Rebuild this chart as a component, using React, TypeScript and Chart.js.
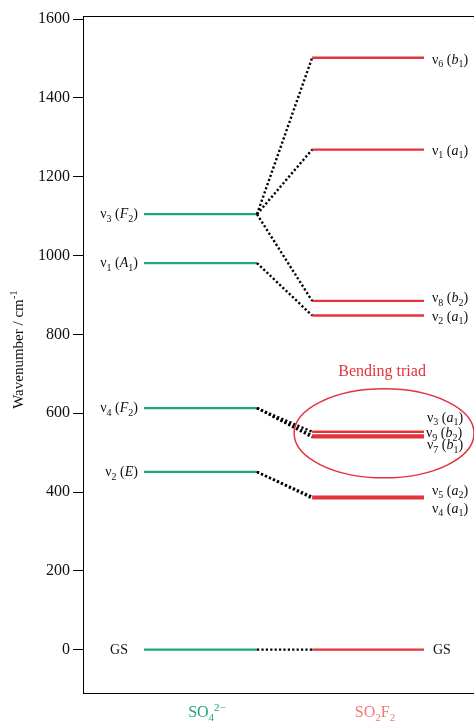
import React, { useEffect, useRef } from 'react';
import { Chart, registerables } from 'chart.js';
Chart.register(...registerables);

// ---------- data ----------
const yTickValues = [0, 200, 400, 600, 800, 1000, 1200, 1400, 1600];
const so4Values = [1105, 981, 613, 451, 0];
const so4Modes = ['3', '1', '4', '2', 'GS'];
const so4Symmetry: (string[] | null)[] = [['F', '2'], ['A', '1'], ['F', '2'], ['E', ''], null];
const so2f2Values = [1502, 1269, 885, 848, 553, 544, 539, 388, 384, 0];
const so2f2Modes = ['6', '1', '8', '2', '3', '9', '7', '5', '4', 'GS'];
const so2f2Symmetry: (string[] | null)[] = [
  ['b', '1'], ['a', '1'], ['b', '2'], ['a', '1'], ['a', '1'], ['b', '2'], ['b', '1'], ['a', '2'], ['a', '1'], null,
];
// [so4 index, so2f2 index]
const correlations = [[0, 0], [0, 1], [0, 2], [1, 3], [2, 4], [2, 5], [2, 6], [3, 7], [3, 8], [4, 9]];
const triadTitle = 'Bending triad';
const triadCenterValue = 549;
const triadHalfHeightValue = 113;

// ---------- layout / style ----------
const FAM = '"Liberation Serif", "Times New Roman", serif';
const GREEN = '#1ca77c';
const RED = '#e3333b';
const SALMON = '#f07a70';
const X_SO4 = [1.56, 4.45];
const X_SO2F2 = [5.86, 8.72];
const so4LabelDx = [-6, -6, -6, -6, -16];
const so4LabelDy = [0, 0, 0, 0, 0];
const so2f2LabelDx = [8, 8, 8, 8, 3, 2, 3, 8, 8, 9];
const so2f2LabelDy = [2, 1, -3, 1, -14, -2, 8, -6, 10, 0];

type Seg = { t: string; sub?: boolean; sup?: boolean; it?: boolean };

function modeLabel(mode: string, sym: string[] | null): Seg[] {
  if (mode === 'GS' || !sym) return [{ t: 'GS' }];
  const s: Seg[] = [{ t: 'ν' }, { t: mode, sub: true }, { t: ' (' }, { t: sym[0], it: true }];
  if (sym[1]) s.push({ t: sym[1], sub: true });
  s.push({ t: ')' });
  return s;
}

function drawRich(ctx: CanvasRenderingContext2D, segs: Seg[], x: number, y: number, align: string, size: number, color: string) {
  const fontFor = (s: Seg) => `${s.it ? 'italic ' : ''}${s.sub || s.sup ? Math.round(size * 0.7) : size}px ${FAM}`;
  let w = 0;
  for (const s of segs) { ctx.font = fontFor(s); w += ctx.measureText(s.t).width; }
  let cx = align === 'right' ? x - w : align === 'center' ? x - w / 2 : x;
  ctx.fillStyle = color;
  ctx.textAlign = 'left';
  ctx.textBaseline = 'alphabetic';
  const base = y + size * 0.3;
  for (const s of segs) {
    ctx.font = fontFor(s);
    const dy = s.sub ? size * 0.25 : s.sup ? -size * 0.38 : 0;
    ctx.fillText(s.t, cx, base + dy);
    cx += ctx.measureText(s.t).width;
  }
}

const annotations = {
  id: 'annotations',
  afterDatasetsDraw(chart: any) {
    const { ctx, chartArea } = chart;
    const xs = chart.scales.x;
    const ys = chart.scales.y;
    ctx.save();
    // top frame line
    ctx.strokeStyle = '#000';
    ctx.lineWidth = 1;
    ctx.beginPath();
    ctx.moveTo(chartArea.left, Math.round(chartArea.top) + 0.5);
    ctx.lineTo(chartArea.right, Math.round(chartArea.top) + 0.5);
    ctx.stroke();

    // SO4 labels
    so4Values.forEach((v, i) => {
      drawRich(ctx, modeLabel(so4Modes[i], so4Symmetry[i]), xs.getPixelForValue(X_SO4[0]) + so4LabelDx[i],
        ys.getPixelForValue(v) + so4LabelDy[i], 'right', 14, '#111');
    });
    // SO2F2 labels
    so2f2Values.forEach((v, i) => {
      drawRich(ctx, modeLabel(so2f2Modes[i], so2f2Symmetry[i]), xs.getPixelForValue(X_SO2F2[1]) + so2f2LabelDx[i],
        ys.getPixelForValue(v) + so2f2LabelDy[i], 'left', 14, '#111');
    });

    // ellipse around bending triad
    const cx = xs.getPixelForValue(7.7);
    const cy = ys.getPixelForValue(triadCenterValue);
    const rx = xs.getPixelForValue(7.7 + 2.3) - cx;
    const ry = cy - ys.getPixelForValue(triadCenterValue + triadHalfHeightValue);
    ctx.strokeStyle = RED;
    ctx.lineWidth = 1.5;
    ctx.beginPath();
    ctx.ellipse(cx, cy, rx, ry, 0, 0, Math.PI * 2);
    ctx.stroke();
    drawRich(ctx, [{ t: triadTitle }], xs.getPixelForValue(7.65), ys.getPixelForValue(706), 'center', 16, RED);

    // category labels
    drawRich(ctx, [{ t: 'SO' }, { t: '4', sub: true }, { t: '2−', sup: true }], 207, 712, 'center', 16, GREEN);
    drawRich(ctx, [{ t: 'SO' }, { t: '2', sub: true }, { t: 'F' }, { t: '2', sub: true }], 375, 712, 'center', 16, SALMON);

    // y axis title
    ctx.translate(18, (chartArea.top + chartArea.bottom) / 2 - 5);
    ctx.rotate(-Math.PI / 2);
    drawRich(ctx, [{ t: 'Wavenumber / cm' }, { t: '-1', sup: true }], 0, 0, 'center', 15, '#111');
    ctx.restore();
  },
};

export default function App() {
  const ref = useRef<HTMLCanvasElement>(null);
  useEffect(() => {
    const datasets: any[] = [];
    correlations.forEach(([a, b]) => {
      datasets.push({
        data: [{ x: X_SO4[1], y: so4Values[a] }, { x: X_SO2F2[0], y: so2f2Values[b] }],
        borderColor: '#000', borderWidth: 2.4, borderDash: [2.2, 2.2], pointRadius: 0, showLine: true,
      });
    });
    so4Values.forEach((v) => {
      datasets.push({ data: [{ x: X_SO4[0], y: v }, { x: X_SO4[1], y: v }], borderColor: GREEN, borderWidth: 2.3, pointRadius: 0, showLine: true });
    });
    so2f2Values.forEach((v) => {
      datasets.push({ data: [{ x: X_SO2F2[0], y: v }, { x: X_SO2F2[1], y: v }], borderColor: RED, borderWidth: 2.3, pointRadius: 0, showLine: true });
    });
    const chart = new Chart(ref.current as HTMLCanvasElement, {
      type: 'scatter',
      data: { datasets },
      options: {
        animation: false,
        responsive: false,
        events: [],
        layout: { padding: { top: 16, left: 0, right: 0, bottom: 0 } },
        plugins: { legend: { display: false }, tooltip: { enabled: false } },
        scales: {
          x: {
            type: 'linear', min: 0, max: 10,
            ticks: { display: false },
            grid: { display: false, drawTicks: false },
            border: { display: true, color: '#000', width: 1 },
            afterFit: (s: any) => { s.height = 29; },
          },
          y: {
            type: 'linear', min: -110, max: 1608,
            afterBuildTicks: (s: any) => { s.ticks = yTickValues.map((v) => ({ value: v })); },
            ticks: { color: '#111', padding: 3, font: { family: FAM, size: 16 }, callback: (v: any) => String(v) },
            grid: { drawOnChartArea: false, drawTicks: true, tickLength: 10, color: '#000', lineWidth: 1 },
            border: { display: true, color: '#000', width: 1 },
            afterFit: (s: any) => { s.width = 83; },
          },
        },
      } as any,
      plugins: [annotations],
    });
    return () => chart.destroy();
  }, []);
  return (
    <div style={{ position: 'fixed', left: 0, top: 0, width: 474, height: 722, background: '#fff' }}>
      <canvas ref={ref} width={474} height={722} style={{ display: 'block' }} />
    </div>
  );
}
